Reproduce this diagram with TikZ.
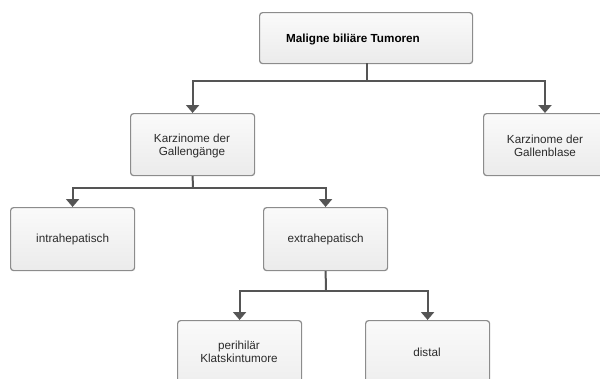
\documentclass[tikz,border=0pt]{standalone}
\usepackage{fontspec}
\setmainfont{Liberation Sans}
\usetikzlibrary{arrows.meta}
\definecolor{boxborder}{HTML}{8C8C8C}
\definecolor{boxtop}{HTML}{FAFAFA}
\definecolor{boxbot}{HTML}{EBEBEB}
\definecolor{linec}{HTML}{555555}
\definecolor{textc}{HTML}{2B2B2B}
\tikzset{
  box/.style={draw=boxborder, line width=1.2pt, rounded corners=3pt, top color=boxtop, bottom color=boxbot,
    minimum width=124pt, minimum height=63pt, inner sep=0pt, anchor=north west},
  lbl/.style={font=\fontsize{11.7}{13.5}\selectfont, align=center, text=textc},
  conn/.style={draw=linec, line width=2pt, -{Triangle[width=13pt,length=8pt]}},
  plain/.style={draw=linec, line width=2pt},
}
\begin{document}
\begin{tikzpicture}[x=1pt,y=-1pt]
\useasboundingbox (0,0) rectangle (600,378);
\clip (0,0) rectangle (600,378);
% boxes
\node[box, minimum width=213pt, minimum height=51pt] (top) at (259,12) {};
\node[lbl, font=\bfseries\fontsize{11.7}{13.5}\selectfont, text=black] (toplbl) at (353,39) {Maligne biliäre Tumoren};
\node[box, minimum height=62pt] (gg) at (130,113) {};
\node[lbl] (gglbl) at (192,146) {Karzinome der\\Gallengänge};
\node[box, minimum height=62pt] (gb) at (483,113) {};
\node[lbl] (gblbl) at (545,146) {Karzinome der\\Gallenblase};
\node[box] (ih) at (10,207) {};
\node[lbl] (ihlbl) at (ih.center) {intrahepatisch};
\node[box] (eh) at (263,207) {};
\node[lbl] (ehlbl) at (eh.center) {extrahepatisch};
\node[box, minimum height=80pt] (ph) at (177,320) {};
\node[lbl] (phlbl) at (239,352) {perihilär\\Klatskintumore};
\node[box, minimum height=80pt] (di) at (365,320) {};
\node[lbl] (dilbl) at (427,352) {distal};
% connectors
\coordinate (j1) at (367,81);
\coordinate (j2) at (193,188);
\coordinate (j3) at (326,291);
\draw[plain] (367,63) -- (j1);
\draw[conn] (j1) -| (gg.north);
\draw[conn] (j1) -| (545,113);
\draw[plain] (gg.south) -- (j2);
\draw[conn] (j2) -| (ih.north);
\draw[conn] (j2) -| (eh.north);
\draw[plain] (eh.south) -- (j3);
\draw[conn] (j3) -| (ph.north);
\draw[conn] (j3) -| (di.north);
\end{tikzpicture}
\end{document}
